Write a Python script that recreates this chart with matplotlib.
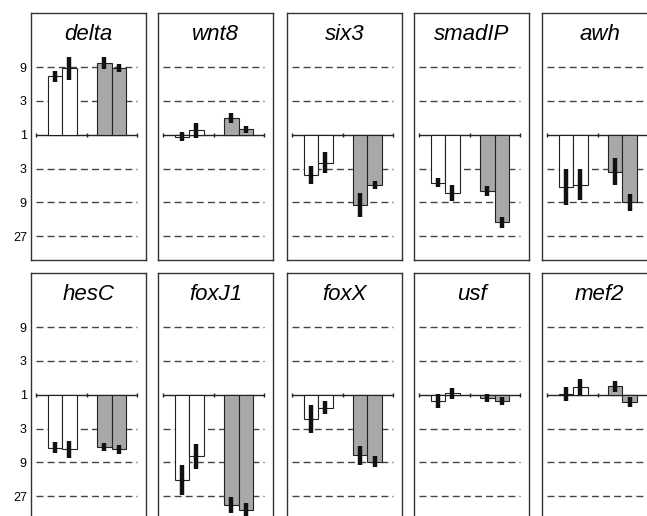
import numpy as np
import matplotlib
matplotlib.use('Agg')
import matplotlib.pyplot as plt

plt.rcParams['font.family'] = ['Liberation Sans', 'DejaVu Sans']

# fold change in log3 units (positive = up, negative = down)
genes = ['delta', 'wnt8', 'six3', 'smadIP', 'awh',
         'hesC', 'foxJ1', 'foxX', 'usf', 'mef2']
vals = [[1.73, 1.97, 2.12, 1.97],
        [-0.05, 0.13, 0.50, 0.16],
        [-1.19, -0.82, -2.08, -1.48],
        [-1.41, -1.73, -1.66, -2.58],
        [-1.55, -1.48, -1.09, -2.00],
        [-1.56, -1.61, -1.54, -1.61],
        [-2.52, -1.82, -3.25, -3.40],
        [-0.72, -0.38, -1.79, -1.98],
        [-0.18, 0.05, -0.10, -0.18],
        [0.03, 0.23, 0.25, -0.22]]
errs = [[0.16, 0.34, 0.17, 0.11],
        [0.13, 0.22, 0.14, 0.11],
        [0.26, 0.31, 0.35, 0.12],
        [0.13, 0.24, 0.14, 0.16],
        [0.53, 0.46, 0.39, 0.25],
        [0.17, 0.25, 0.13, 0.14],
        [0.45, 0.36, 0.23, 0.21],
        [0.41, 0.20, 0.27, 0.16],
        [0.21, 0.16, 0.11, 0.12],
        [0.20, 0.24, 0.16, 0.15]]
bar_colors = ['white', 'white', '#a8a8a8', '#a8a8a8']
grid_levels = [2, 1, -1, -2, -3]
tick_pos = [2, 1, 0, -1, -2, -3]
tick_labels = ['9', '3', '1', '3', '9', '27']

W, H = 647, 516
fig = plt.figure(figsize=(W / 100, H / 100), dpi=100)

lefts = [31, 158, 287, 414, 542]
tops = [13, 273]
pw, ph = 115, 247
xpos = np.array([1.67, 2.67, 5.1, 6.1])
x0, x1 = 0.35, 7.37

for i, g in enumerate(genes):
    r, c = divmod(i, 5)
    ax = fig.add_axes([lefts[c] / W, 1 - (tops[r] + ph) / H, pw / W, ph / H])
    ax.set_xlim(0, 8)
    ax.set_ylim(-3.7, 3.6)
    for s in ax.spines.values():
        s.set_linewidth(1.0)
        s.set_color('#333333')

    ax.hlines(grid_levels, x0, x1, colors='#444444', linestyles=(0, (5, 3)),
              lw=1.0, zorder=1)
    ax.hlines(0, x0, x1, colors='#222222', lw=1.0, zorder=2)
    ax.vlines([x0, 3.87, x1], -0.06, 0.06, colors='#222222', lw=1.0, zorder=2)

    v = np.array(vals[i])
    e = np.array(errs[i])
    ax.bar(xpos, v, width=1.0, color=bar_colors, edgecolor='#222222',
           lw=0.8, zorder=3)
    ax.vlines(xpos, v - e, v + e, colors='#111111', lw=3.2, zorder=4)

    ax.text(0.5, 1 - 22 / ph, g, transform=ax.transAxes, ha='center',
            va='center', fontsize=16, style='italic')

    ax.set_xticks([])
    if c == 0:
        ax.set_yticks(tick_pos, tick_labels)
        ax.tick_params(axis='y', length=0, pad=3, labelsize=9)
    else:
        ax.set_yticks([])

fig.savefig('out.png', dpi=100)
